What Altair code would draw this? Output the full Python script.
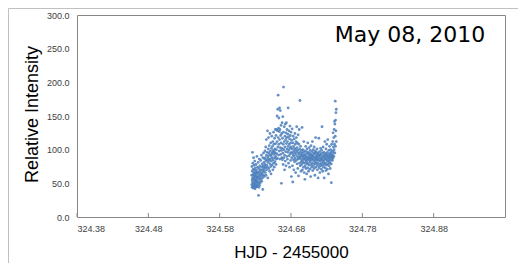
import altair as alt
import pandas as pd

# ---- data ----
hjd = [
 324.625,324.625,324.6252,324.6255,324.6255,324.6258,324.626,324.626,324.6262,324.6265,324.6265,324.6268,324.627,324.627,324.6272,324.6275,324.6275,324.6278,324.628,324.628,324.6282,324.6285,324.6285,324.6288,324.629,324.629,324.6292,324.6295,324.6295,324.6298,324.630,324.630,324.6302,324.6305,324.6305,324.6308,324.631,324.631,324.6312,324.6315,324.6315,324.6318,324.632,324.632,324.6322,324.6325,
 324.6325,324.633,324.633,324.6333,324.6335,324.6338,324.634,324.634,324.6345,324.6345,324.6348,324.635,324.635,324.6355,324.6355,324.6358,324.636,324.636,324.6365,324.6365,324.637,324.637,324.6375,324.6375,324.638,324.638,324.6385,324.6385,324.639,324.639,324.6395,324.6395,324.640,324.640,324.6405,324.6405,324.641,324.641,324.6415,324.6415,324.642,324.642,324.6425,324.6425,324.643,324.643,
 324.6435,324.6435,324.644,324.644,324.6445,324.6445,324.645,324.645,324.6455,324.6455,324.646,324.646,324.6465,324.6465,324.647,324.647,324.6475,324.6475,324.648,324.648,324.6485,324.6485,324.649,324.649,324.6495,324.6495,324.650,324.650,324.6505,324.6505,324.651,324.651,324.6515,324.6515,324.652,324.652,324.6525,324.6525,324.653,324.653,324.6535,324.6535,324.654,324.654,324.6545,324.6545,324.655,324.655,324.6555,324.6555,324.656,324.656,324.6565,324.6565,324.657,324.657,324.6575,324.6575,324.658,324.658,324.6585,324.6585,324.659,324.659,324.6595,324.6595,
 324.660,324.660,324.6605,324.6605,324.661,324.661,324.6615,324.6615,324.662,324.662,324.6625,324.6625,324.663,324.663,324.6635,324.6635,324.664,324.664,324.6645,324.6645,324.665,324.665,324.6655,324.6655,324.666,324.666,324.6665,324.6665,324.667,324.667,
 324.6675,324.6675,324.668,324.668,324.6685,324.6685,324.669,324.669,324.6695,324.6695,324.670,324.670,324.6705,324.6705,324.671,324.671,324.6715,324.6715,324.672,324.672,324.6725,324.6725,324.673,324.673,324.6735,324.6735,324.674,324.674,324.6745,324.6745,324.675,324.675,324.6755,324.6755,324.676,324.676,324.6765,324.6765,324.677,324.677,324.6775,324.6775,324.678,324.678,324.6785,324.6785,324.679,324.679,324.6795,324.6795,324.680,324.680,324.6805,324.6805,
 324.681,324.681,324.6815,324.6815,324.682,324.682,324.6825,324.6825,324.683,324.683,324.6835,324.6835,324.684,324.684,324.6845,324.6845,324.685,324.685,324.6855,324.6855,324.686,324.686,324.6865,324.6865,324.687,324.687,324.6875,324.6875,324.688,324.688,324.6885,324.6885,324.689,324.689,324.6895,324.6895,324.690,324.690,324.6905,324.6905,324.691,324.691,324.6915,324.6915,324.692,324.692,324.6925,324.6925,324.693,324.693,324.6935,324.6935,324.694,324.694,324.6945,324.6945,
 324.695,324.695,324.6955,324.6955,324.696,324.696,324.6965,324.6965,324.697,324.697,324.6975,324.6975,324.698,324.698,324.6985,324.6985,324.699,324.699,324.6995,324.6995,324.700,324.700,324.7005,324.7005,324.701,324.701,324.7015,324.7015,324.702,324.702,324.7025,324.7025,324.703,324.703,324.7035,324.7035,324.704,324.704,324.7045,324.7045,324.705,324.705,324.7055,324.7055,324.706,324.706,324.7065,324.7065,324.707,324.707,324.7075,324.7075,324.708,324.708,324.7085,324.7085,324.709,324.709,324.7095,324.7095,324.710,324.710,324.7105,324.7105,324.711,324.711,324.7115,324.7115,324.712,324.712,324.7125,324.7125,324.713,324.713,324.7135,324.7135,324.714,324.714,324.7145,324.7145,324.715,324.715,324.7155,324.7155,324.716,324.716,324.7165,324.7165,324.717,324.717,324.7175,324.7175,324.718,324.718,324.7185,324.7185,
 324.719,324.719,324.7195,324.7195,324.720,324.720,324.7205,324.7205,324.721,324.721,324.7215,324.7215,324.722,324.722,324.7225,324.7225,324.723,324.723,324.7235,324.7235,324.724,324.724,324.7245,324.7245,324.725,324.725,324.7255,324.7255,324.726,324.726,324.7265,324.7265,324.727,324.727,324.7275,324.7275,324.728,324.728,324.7285,324.7285,324.729,324.729,324.7295,324.7295,324.730,324.730,324.7305,324.7305,324.731,324.731,324.7315,324.7315,324.732,324.732,324.7325,324.7325,324.733,324.733,324.7335,324.7335,324.734,324.734,324.7345,324.7345,324.735,324.735,324.7355,324.7355,324.736,324.736,324.7365,324.7365,324.737,324.737,324.7375,324.7375,
 324.738,324.738,324.7385,324.7385,324.739,324.739,324.7395,324.7395,324.740,324.740,324.7405,324.7405,324.741,324.741,324.7415,324.7415,324.742,324.742,324.7425,324.7425,324.743,324.743,324.7435,324.7435,
]
intensity = [
 62,48,75,55,44,68,52,96,58,46,80,63,50,71,43,57,88,66,49,60,77,45,54,70,62,47,83,56,42,65,51,73,59,44,67,53,78,48,61,55,70,46,64,52,90,58,
 45,67,52,74,60,48,81,57,32,65,50,72,44,61,86,54,68,47,76,58,63,51,84,70,56,66,92,61,74,53,79,64,70,58,41,88,67,76,62,95,72,81,60,69,86,75,
 78,98,66,88,104,73,83,62,92,115,77,70,96,85,128,74,90,58,101,81,87,118,72,95,84,106,68,92,79,124,98,86,75,110,91,64,102,83,94,120,77,88,105,96,70,112,85,99,126,80,93,108,74,97,117,88,101,82,130,95,109,90,78,121,100,86,
 130,94,112,150,87,128,160,104,118,181,92,132,147,108,127,98,162,115,86,130,103,158,121,93,136,110,50,99,124,88,
 140,102,85,117,149,95,108,78,126,193,100,88,134,112,92,70,120,104,138,83,115,97,125,76,109,140,90,118,101,130,86,112,123,96,162,105,80,119,99,128,108,91,116,74,135,102,94,121,110,84,104,126,96,60,
 114,88,101,131,95,76,52,110,120,92,85,105,98,70,116,90,102,82,124,95,87,108,66,100,112,93,84,118,97,134,79,103,90,110,72,99,122,86,95,61,108,88,93,130,80,101,173,89,96,76,105,86,92,68,99,82,
 90,78,95,133,84,70,92,100,81,88,74,96,86,112,66,91,80,98,56,87,93,76,84,105,90,72,97,82,64,88,101,79,94,85,73,110,89,80,96,68,86,92,77,103,84,95,71,88,99,82,91,60,87,106,78,93,85,74,97,89,80,112,92,69,86,100,76,90,95,83,104,72,88,79,94,62,85,98,81,118,90,74,87,96,78,92,101,84,70,89,95,80,58,86,93,76,
 117,84,91,73,88,97,79,66,92,83,102,76,87,94,71,85,99,80,134,90,77,86,95,68,83,104,89,74,92,81,58,96,85,78,112,90,73,87,94,80,101,69,86,92,77,108,83,90,96,71,88,115,79,93,85,64,99,82,90,76,105,87,94,80,72,91,100,84,88,96,51,79,93,108,86,90,
 98,84,112,92,125,88,104,96,118,90,130,100,142,108,138,95,172,120,144,105,155,128,160,112,
]

x_ticks = [324.38, 324.48, 324.58, 324.68, 324.78, 324.88]
y_ticks = [0, 50, 100, 150, 200, 250, 300]
date_label = "May 08, 2010"

df = pd.DataFrame({"hjd": hjd, "intensity": intensity})
ticks_df = pd.DataFrame({"t": x_ticks})

W, H = 428, 202

xscale = alt.Scale(domain=[324.38, 324.98], nice=False, zero=False)
yscale = alt.Scale(domain=[0, 300], nice=False)

points = alt.Chart(df).mark_circle(size=8, color="#4a7ebb", opacity=0.85).encode(
    x=alt.X("hjd:Q", scale=xscale,
            axis=alt.Axis(values=x_ticks, format=".2f", title="HJD - 2455000",
                          grid=False, domain=False, ticks=False,
                          labelFont="Liberation Sans", labelFontSize=9, labelColor="#404040",
                          labelPadding=7, titleFont="Liberation Sans", titleFontSize=17,
                          titleFontWeight="normal", titleColor="#000000",
                          titleX=W / 2, titleY=35, titleBaseline="middle", titleAlign="center")),
    y=alt.Y("intensity:Q", scale=yscale,
            axis=alt.Axis(values=y_ticks, format=".1f", title="Relative Intensity",
                          grid=False, domain=False, ticks=False,
                          labelFont="Liberation Sans", labelFontSize=9, labelColor="#404040",
                          labelPadding=8, titleFont="Liberation Sans", titleFontSize=18,
                          titleFontWeight="normal", titleColor="#000000",
                          titleX=-45, titleY=H / 2 - 2, titleAngle=270,
                          titleBaseline="middle", titleAlign="center")),
)

tick_marks = alt.Chart(ticks_df).mark_rule(color="#888888", strokeWidth=1).encode(
    x=alt.X("t:Q", scale=xscale),
    y=alt.value(H),
    y2=alt.value(H - 4),
)

label = alt.Chart(alt.Data(values=[{"label": date_label}])).mark_text(
    font="DejaVu Sans", fontSize=22, color="#000000", align="center", baseline="middle",
).encode(text="label:N", x=alt.value(333), y=alt.value(20))

outer = alt.Chart(alt.Data(values=[{}])).mark_rect(
    fill=None, stroke="#c0c0c0", strokeWidth=1
).encode(x=alt.value(-68.5), x2=alt.value(700), y=alt.value(-6.5), y2=alt.value(500))

chart = alt.layer(outer, points, tick_marks, label).properties(
    width=W, height=H,
    autosize=alt.AutoSizeParams(type="none"),
    padding={"left": 69, "top": 7, "right": 13, "bottom": 46},
).configure_view(stroke="#868686", strokeWidth=1)

chart.save("out.html", embed_options={"renderer": "svg", "actions": False})
